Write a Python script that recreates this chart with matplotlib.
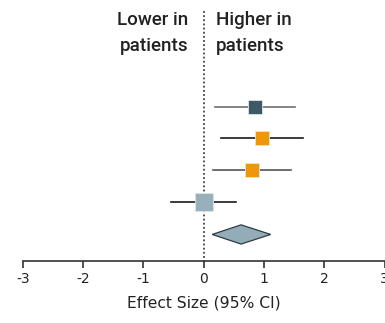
import matplotlib
matplotlib.use("Agg")
import matplotlib.pyplot as plt
from matplotlib.patches import Polygon

# study rows, top to bottom
effects = [0.85, 0.97, 0.80, 0.00]
ci_low = [0.18, 0.29, 0.15, -0.54]
ci_high = [1.52, 1.64, 1.44, 0.53]
marker_colors = ["#3d5966", "#f0960a", "#f0960a", "#97b0bc"]
line_colors = ["#707070", "#1a1a1a", "#555555", "#1a1a1a"]
marker_sizes = [10, 10, 10, 13]

# pooled estimate (diamond)
pooled = 0.62
pooled_low = 0.14
pooled_high = 1.11

xticks = [-3, -2, -1, 0, 1, 2, 3]
header_left = ["Lower in", "patients"]
header_right = ["Higher in", "patients"]

plt.rcParams['font.family'] = ['DejaVu Sans']

fig = plt.figure(figsize=(3.85, 3.23), dpi=100)
ax = fig.add_axes([22.7 / 385, 62 / 323, 362 / 385, 261 / 323])

rows = list(range(1, len(effects) + 1))
for y, e, lo, hi, mc, lc, ms in zip(rows, effects, ci_low, ci_high,
                                    marker_colors, line_colors, marker_sizes):
    ax.plot([lo, hi], [y, y], color=lc, lw=1.2, zorder=2)
    ax.plot(e, y, marker="s", ms=ms, mfc=mc, mec="#dfe6ea", mew=0.6, zorder=3)

yd = len(effects) + 1
dh = 0.3
diamond = Polygon([[pooled_low, yd], [pooled, yd - dh], [pooled_high, yd], [pooled, yd + dh]],
                  closed=True, facecolor="#93adb8", edgecolor="#2f3b42", lw=0.9, zorder=3)
ax.add_patch(diamond)

# no-effect line
ax.plot([0, 0], [yd + 0.85, -2.03], color="#444444", lw=1.3, ls=(0, (1, 1.3)), zorder=1)

ax.set_xlim(-3, 3)
ax.set_ylim(yd + 0.83, -2.33)
ax.set_xticks(xticks)
ax.set_xticklabels([str(t) for t in xticks], fontsize=10, color="#222222")
ax.set_yticks([])
for s in ["top", "right", "left"]:
    ax.spines[s].set_visible(False)
ax.spines["bottom"].set_color("#333333")
ax.spines["bottom"].set_linewidth(1.2)
ax.tick_params(axis="x", length=5, width=1.2, color="#333333", pad=3)
ax.set_xlabel("Effect Size (95% CI)", fontsize=11.2, color="#222222", labelpad=7)

# headers, one text per line so each baseline can be placed
for i, (l, r) in enumerate(zip(header_left, header_right)):
    yb = -1.54 + 0.82 * i
    ax.text(-0.25, yb, l, ha="right", va="baseline", fontsize=13.5,
            family=["Roboto", "DejaVu Sans"], fontweight="medium", color="#222222")
    ax.text(0.2, yb, r, ha="left", va="baseline", fontsize=13.5,
            family=["Roboto", "DejaVu Sans"], fontweight="medium", color="#222222")

fig.savefig("out.png", dpi=100)
